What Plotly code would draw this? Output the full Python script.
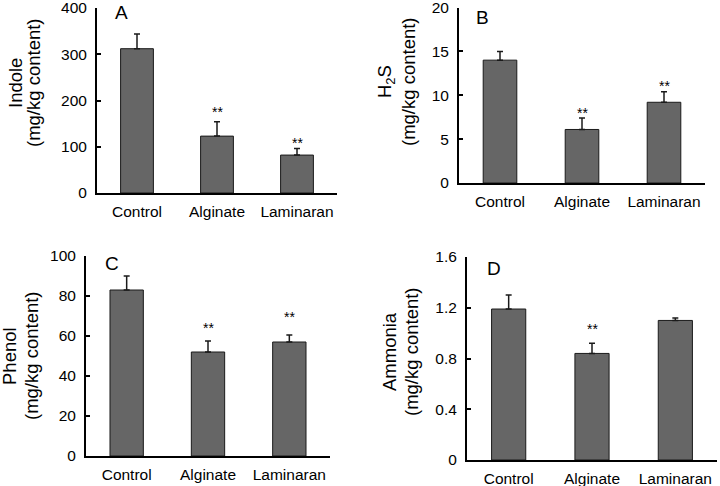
import plotly.graph_objects as go

categories = ["Control", "Alginate", "Laminaran"]

indole = [312, 123, 82]
indole_err = [32, 31, 14]
h2s = [14.0, 6.1, 9.2]
h2s_err = [1.0, 1.3, 1.2]
phenol = [83, 52, 57]
phenol_err = [7, 5.5, 3.5]
ammonia = [1.19, 0.84, 1.10]
ammonia_err = [0.11, 0.08, 0.02]

stars_a = ["", "**", "**"]
stars_b = ["", "**", "**"]
stars_c = ["", "**", "**"]
stars_d = ["", "**", ""]

yticks_a = [0, 100, 200, 300, 400]
yticks_b = [0, 5, 10, 15, 20]
yticks_c = [0, 20, 40, 60, 80, 100]
yticks_d = [0, 0.4, 0.8, 1.2, 1.6]
yticklabels_d = ["0", "0.4", "0.8", "1.2", "1.6"]

W, H = 720, 486
FONT = "Liberation Sans, Arial, sans-serif"

panels = [
    dict(vals=indole, err=indole_err, stars=stars_a, ticks=yticks_a, labels=[str(t) for t in yticks_a],
         yr=[0, 400], px=(97, 337), py=(8, 193), letter="A", lpos=(121, 12),
         t1="Indole", t1x=16, t2x=34, tcy=83, starshift=[0, 10, 6]),
    dict(vals=h2s, err=h2s_err, stars=stars_b, ticks=yticks_b, labels=[str(t) for t in yticks_b],
         yr=[0, 20], px=(459, 705), py=(7.5, 183), letter="B", lpos=(483, 18),
         t1="H<sub>2</sub>S", t1x=386, t2x=408, tcy=82, starshift=[0, 5, 6]),
    dict(vals=phenol, err=phenol_err, stars=stars_c, ticks=yticks_c, labels=[str(t) for t in yticks_c],
         yr=[0, 100], px=(86, 330), py=(256, 456), letter="C", lpos=(112, 263),
         t1="Phenol", t1x=9, t2x=31, tcy=356, starshift=[0, 13, 18]),
    dict(vals=ammonia, err=ammonia_err, stars=stars_d, ticks=yticks_d, labels=yticklabels_d,
         yr=[0, 1.6], px=(467, 717), py=(257, 460), letter="D", lpos=(494, 268),
         t1="Ammonia", t1x=389, t2x=411, tcy=352, starshift=[0, 14, 0]),
]

fig = go.Figure()
annotations = []
for i, p in enumerate(panels):
    n = "" if i == 0 else str(i + 1)
    xa, ya = "x" + n, "y" + n
    top = [v + e for v, e in zip(p["vals"], p["err"])]
    fig.add_trace(go.Bar(
        x=categories, y=p["vals"], xaxis=xa, yaxis=ya, width=0.41,
        marker=dict(color="#666666", line=dict(color="#1a1a1a", width=1)),
        error_y=dict(type="data", array=p["err"], arrayminus=[0] * 3, symmetric=False,
                     color="#1a1a1a", thickness=1.5, width=3),
        showlegend=False,
    ))
    dom_x = [p["px"][0] / W, p["px"][1] / W]
    dom_y = [1 - p["py"][1] / H, 1 - p["py"][0] / H]
    fig.update_layout(**{
        "xaxis" + n: dict(domain=dom_x, anchor=ya, range=[-0.5, 2.5], showline=True,
                          linecolor="black", linewidth=2, ticks="", showgrid=False, zeroline=False,
                          automargin=False, ticklabeloverflow="allow",
                          tickfont=dict(size=15.5, color="black", family=FONT), ticklabelstandoff=3),
        "yaxis" + n: dict(domain=dom_y, anchor=xa, range=p["yr"], showline=True,
                          linecolor="black", linewidth=2, ticks="inside", ticklen=4, tickwidth=2,
                          tickcolor="black", showgrid=False, zeroline=False, automargin=False,
                          ticklabeloverflow="allow",
                          tickvals=p["ticks"], ticktext=p["labels"], ticklabelstandoff=5,
                          tickfont=dict(size=15.5, color="black", family=FONT)),
    })
    for c, s, t, sh in zip(categories, p["stars"], top, p["starshift"]):
        if s:
            annotations.append(dict(x=c, y=t, xref=xa, yref=ya, text=s, showarrow=False,
                                    yanchor="middle", yshift=sh,
                                    font=dict(size=14, color="black", family=FONT)))
    annotations.append(dict(x=p["lpos"][0] / W, y=1 - p["lpos"][1] / H, xref="paper", yref="paper",
                            text=p["letter"], showarrow=False, xanchor="center", yanchor="middle",
                            font=dict(size=19, color="black", family=FONT)))
    annotations.append(dict(x=p["t1x"] / W, y=1 - p["tcy"] / H, xref="paper", yref="paper",
                            text=p["t1"], showarrow=False, textangle=-90, xanchor="center",
                            yanchor="middle", font=dict(size=18.5, color="black", family=FONT)))
    annotations.append(dict(x=p["t2x"] / W, y=1 - p["tcy"] / H, xref="paper", yref="paper",
                            text="(mg/kg content)", showarrow=False, textangle=-90, xanchor="center",
                            yanchor="middle", font=dict(size=18.5, color="black", family=FONT)))

fig.update_layout(width=W, height=H, margin=dict(l=0, r=0, t=0, b=0, autoexpand=False),
                  paper_bgcolor="white", plot_bgcolor="white", bargap=0.6,
                  annotations=annotations, font=dict(family=FONT, color="black"))

fig.write_html("out.html", config={"displayModeBar": False},
               post_script="document.body.style.margin='0px';")
